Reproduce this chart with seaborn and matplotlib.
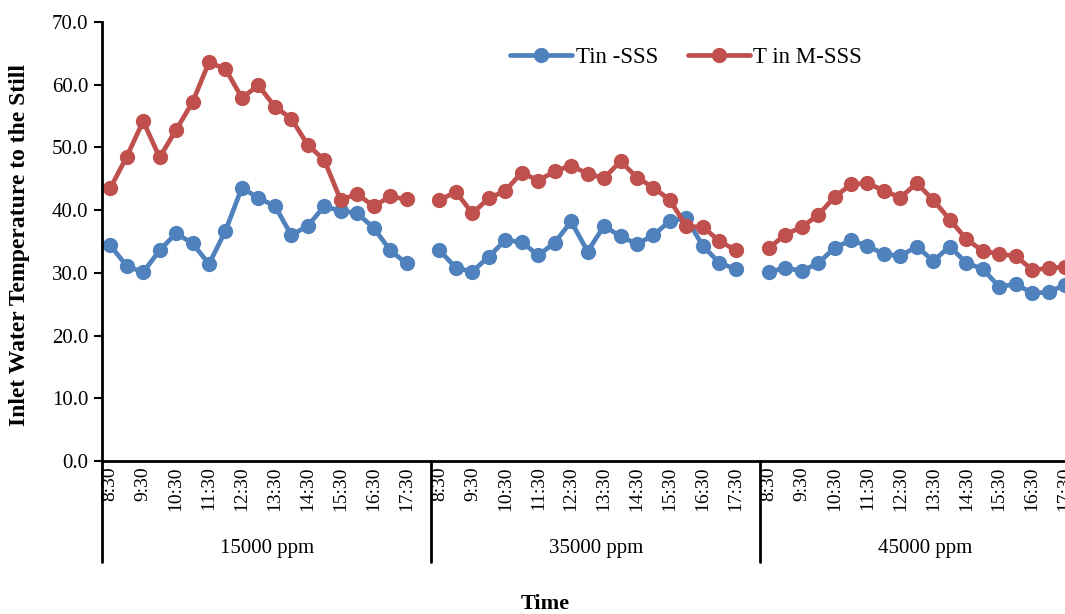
import numpy as np
import pandas as pd
import matplotlib
matplotlib.use("Agg")
import matplotlib.pyplot as plt
import seaborn as sns
from matplotlib.lines import Line2D

# ---------------- data ----------------
times = ["8:30", "9:00", "9:30", "10:00", "10:30", "11:00", "11:30", "12:00", "12:30",
         "13:00", "13:30", "14:00", "14:30", "15:00", "15:30", "16:00", "16:30", "17:00", "17:30"]
groups = ["15000 ppm", "35000 ppm", "45000 ppm"]
series_names = ["Tin -SSS", "T in M-SSS"]

tin_sss_15 = [34.4, 31.1, 30.1, 33.6, 36.3, 34.7, 31.4, 36.7, 43.6, 41.9, 40.7, 36.0, 37.5, 40.6, 39.9, 39.5, 37.2, 33.6, 31.5]
tin_msss_15 = [43.5, 48.5, 54.2, 48.4, 52.8, 57.2, 63.6, 62.5, 57.9, 59.9, 56.5, 54.6, 50.4, 48.0, 41.6, 42.6, 40.6, 42.2, 41.7]
tin_sss_35 = [33.6, 30.8, 30.2, 32.6, 35.2, 34.9, 32.8, 34.8, 38.2, 33.4, 37.5, 35.8, 34.6, 36.0, 38.3, 38.7, 34.3, 31.6, 30.6]
tin_msss_35 = [41.6, 42.9, 39.5, 41.9, 43.1, 46.0, 44.7, 46.2, 47.1, 45.8, 45.1, 47.8, 45.2, 43.6, 41.6, 37.4, 37.3, 35.1, 33.6]
tin_sss_45 = [30.1, 30.8, 30.3, 31.5, 34.0, 35.2, 34.3, 33.0, 32.7, 34.2, 31.9, 34.2, 31.6, 30.6, 27.8, 28.2, 26.8, 26.9, 28.1]
tin_msss_45 = [33.9, 36.1, 37.3, 39.2, 42.1, 44.1, 44.3, 43.1, 42.0, 44.3, 41.6, 38.5, 35.4, 33.5, 33.0, 32.7, 30.5, 30.7, 31.0]

y_ticks = [0, 10, 20, 30, 40, 50, 60, 70]

# ---------------- build tidy table ----------------
values = {
    (0, 0): tin_sss_15, (0, 1): tin_msss_15,
    (1, 0): tin_sss_35, (1, 1): tin_msss_35,
    (2, 0): tin_sss_45, (2, 1): tin_msss_45,
}
slots_per_group = len(times) + 1   # one empty category between groups
rows = []
for (g, s), vals in values.items():
    for i, v in enumerate(vals):
        rows.append({"pos": g * slots_per_group + i, "temp": v,
                     "series": series_names[s], "group": groups[g], "time": times[i]})
df = pd.DataFrame(rows)

# ---------------- figure ----------------
sns.set_style("white")
plt.rcParams["font.family"] = ["Liberation Serif", "DejaVu Serif"]
plt.rcParams["text.color"] = "black"
plt.rcParams["xtick.color"] = "black"
plt.rcParams["ytick.color"] = "black"
plt.rcParams["axes.labelcolor"] = "black"

W, H = 1065, 614
fig = plt.figure(figsize=(W / 100, H / 100), dpi=100)
L, T, B = 102, 22, 461
ax = fig.add_axes([L / W, (H - B) / H, (W - L) / W, (B - T) / H])

colors = {"Tin -SSS": "#4F81BD", "T in M-SSS": "#C0504D"}
sns.lineplot(data=df, x="pos", y="temp", hue="series", units="group", estimator=None,
             palette=colors, hue_order=series_names, marker="o", markersize=11,
             markeredgewidth=0, linewidth=3.4, ax=ax, legend=False, sort=False)

# ---------------- axes ----------------
ax.set_xlim(-0.5, -0.5 + (W - L) / 16.5)
ax.set_ylim(0, 70)
ax.set_yticks(y_ticks)
ax.set_yticklabels([f"{v:.1f}" for v in y_ticks], fontsize=15)
ax.tick_params(axis="y", direction="out", length=6, width=1.5, pad=4, left=True)

label_idx = list(range(0, len(times), 2))
xt, xl = [], []
for g in range(len(groups)):
    for i in label_idx:
        xt.append(g * slots_per_group + i)
        xl.append(times[i])
ax.set_xticks(xt)
ax.set_xticklabels(xl, rotation=90, fontsize=14, va="top")
ax.tick_params(axis="x", length=0, pad=4)
# partially visible last label (cut at the right edge as in the reference)
trans = ax.get_xaxis_transform()
last_x = 2 * slots_per_group + label_idx[-1]
if last_x > ax.get_xlim()[1]:
    ax.text(last_x, -4 / (B - T), times[label_idx[-1]], transform=trans, rotation=90,
            ha="center", va="top", fontsize=14, clip_on=False)

for side in ["top", "right"]:
    ax.spines[side].set_visible(False)
for side in ["left", "bottom"]:
    ax.spines[side].set_linewidth(2)
    ax.spines[side].set_color("black")
ax.set_xlabel("")
ax.set_ylabel("")
ax.grid(False)

# group separators and labels
sep_bottom = -(562 - B) / (B - T)
for g in range(len(groups)):
    xs = g * slots_per_group - 0.5
    ax.plot([xs, xs], [0, sep_bottom], transform=trans, color="black", lw=2, clip_on=False)
    ax.text(g * slots_per_group + (slots_per_group - 1) / 2, -(549 - B) / (B - T), groups[g],
            transform=trans, ha="center", va="center", fontsize=15)

# legend
handles = [Line2D([], [], color=colors[s], lw=3.4, marker="o", markersize=11, markeredgewidth=0)
           for s in series_names]
ax.legend(handles, series_names, loc="center", bbox_to_anchor=((686 - L) / (W - L), (B - 57) / (B - T)),
          ncol=2, frameon=False, fontsize=16.5, handlelength=2.7, columnspacing=1.3, handletextpad=0.15)

fig.text(20 / W, 1 - 245 / H, "Inlet Water Temperature to the Still", rotation=90,
         ha="center", va="center", fontsize=17, fontweight="bold")
fig.text(545 / W, 1 - 604 / H, "Time", ha="center", va="center", fontsize=16, fontweight="bold")

fig.savefig("out.png", dpi=100)
